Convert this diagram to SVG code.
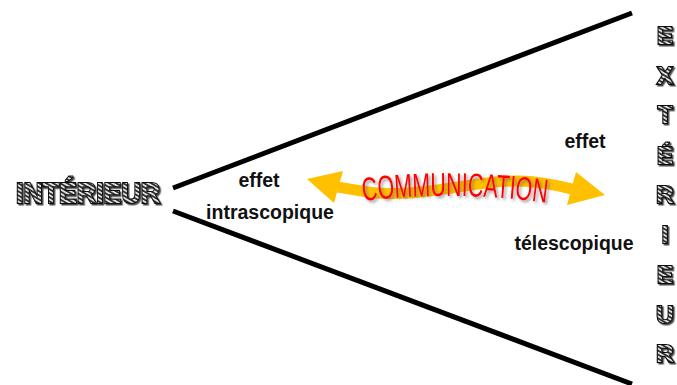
<svg xmlns="http://www.w3.org/2000/svg" width="677" height="385" viewBox="0 0 677 385">
<defs>
<pattern id="hatch" patternUnits="userSpaceOnUse" width="3.5" height="3.5" patternTransform="rotate(-60)">
<rect width="3.5" height="3.5" fill="#e6e6e6"/>
<rect width="1.8" height="3.5" fill="#2e2e2e"/>
</pattern>
<filter id="shadow" x="-20%" y="-20%" width="140%" height="140%">
<feDropShadow dx="1.5" dy="1.5" stdDeviation="0.7" flood-color="#000" flood-opacity="0.7"/>
</filter>
<filter id="redshadow" x="-10%" y="-30%" width="120%" height="160%">
<feDropShadow dx="2" dy="2" stdDeviation="1.5" flood-color="#555" flood-opacity="0.6"/>
</filter>
<path id="commPath" d="M363,201 Q455,190 549,203"/>
</defs>
<style>
.fancy{font-family:"Liberation Sans",Arial,sans-serif;font-weight:bold;fill:url(#hatch);stroke:#111;stroke-width:2.2;paint-order:stroke;filter:url(#shadow)}
.lbl{font-family:"Liberation Sans",Arial,sans-serif;font-weight:bold;font-size:19.5px;fill:#111}
.line{stroke:#000;stroke-width:5;fill:none}
.arrow{fill:#FFC000}
</style>
<g id="connectors">
<line class="line" x1="173" y1="188" x2="632" y2="13"/>
<line class="line" x1="173" y1="211" x2="632" y2="384"/>
</g>
<g id="interieur">
<text class="fancy" x="16" y="203" font-size="30" textLength="144" lengthAdjust="spacingAndGlyphs">INTÉRIEUR</text>
</g>
<g id="exterieur" class="fancy" font-size="24" text-anchor="middle">
<text x="665" y="44">E</text>
<text x="665" y="84">X</text>
<text x="665" y="123">T</text>
<text x="665" y="164">É</text>
<text x="665" y="203">R</text>
<text x="665" y="243">I</text>
<text x="665" y="283">E</text>
<text x="665" y="323">U</text>
<text x="665" y="362">R</text>
</g>
<g id="communication-arrow">
<path d="M338,187 C365,192 385,196 420,192 C460,188 490,180 520,181 C545,182 560,186 572,189" stroke="#FFC000" stroke-width="11" fill="none"/>
<polygon class="arrow" points="307,179 343,171 334,203"/>
<polygon class="arrow" points="605,195 576,172 567,205"/>
<text font-family="'Liberation Sans',Arial,sans-serif" font-size="33" fill="#FF0000" filter="url(#redshadow)" textLength="184" lengthAdjust="spacingAndGlyphs"><textPath href="#commPath">COMMUNICATION</textPath></text>
</g>
<g id="label-intra">
<text class="lbl" x="259" y="187" text-anchor="middle">effet</text>
<text class="lbl" x="270" y="219" text-anchor="middle">intrascopique</text>
</g>
<g id="label-tele">
<text class="lbl" x="585" y="148" text-anchor="middle">effet</text>
<text class="lbl" x="574" y="250" text-anchor="middle">télescopique</text>
</g>
</svg>
